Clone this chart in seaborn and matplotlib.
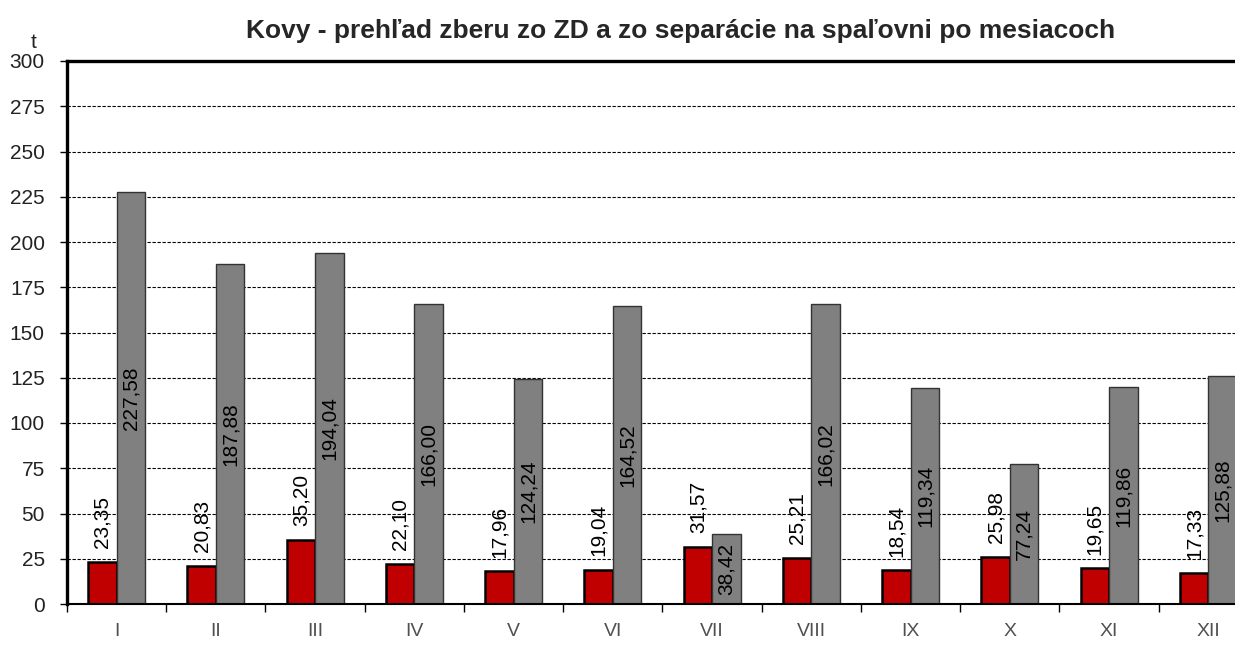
import matplotlib
matplotlib.use("Agg")
import matplotlib.pyplot as plt
import numpy as np
import pandas as pd
import seaborn as sns

# monthly data (t)
months = ['I', 'II', 'III', 'IV', 'V', 'VI', 'VII', 'VIII', 'IX', 'X', 'XI', 'XII']
zber_zd = [23.35, 20.83, 35.20, 22.10, 17.96, 19.04, 31.57, 25.21, 18.54, 25.98, 19.65, 17.33]
separacia = [227.58, 187.88, 194.04, 166.00, 124.24, 164.52, 38.42, 166.02, 119.34, 77.24, 119.86, 125.88]
series_names = ['zber zo ZD', 'separácia na spaľovni']
y_ticks = list(range(0, 301, 25))

title = 'Kovy - prehľad zberu zo ZD a zo separácie na spaľovni po mesiacoch'

df = pd.DataFrame({
    'mesiac': months * 2,
    'hodnota': zber_zd + separacia,
    'zdroj': [series_names[0]] * len(months) + [series_names[1]] * len(months),
})

sns.set_theme(style='white')
plt.rcParams['font.family'] = ['Liberation Sans', 'DejaVu Sans']

fig = plt.figure(figsize=(12.35, 6.48), dpi=100)
# axes runs past the right edge like in the original (cropped) picture
ax = fig.add_axes([67 / 1235, 44 / 648, 1191 / 1235, 543 / 648])

sns.barplot(data=df, x='mesiac', y='hodnota', hue='zdroj', order=months,
            hue_order=series_names, palette=['#C00000', '#808080'],
            width=0.575, saturation=1, legend=False, ax=ax, zorder=2)

red_bars, gray_bars = ax.containers[0], ax.containers[1]
for p in red_bars:
    p.set_edgecolor('black')
    p.set_linewidth(1.8)
for p in gray_bars:
    p.set_edgecolor('#333333')
    p.set_linewidth(1.0)

def fmt(v):
    return f'{v:.2f}'.replace('.', ',')

ax.bar_label(red_bars, labels=[fmt(v) for v in zber_zd], rotation=90,
             padding=10, fontsize=15, color='black')
ax.bar_label(gray_bars, labels=[fmt(v) for v in separacia], rotation=90,
             label_type='center', fontsize=15, color='black')

ax.set_xlim(-0.5, len(months) - 0.5)
ax.set_ylim(0, 300)
ax.set_yticks(y_ticks)
ax.set_xlabel('')
ax.set_ylabel('')

ax.yaxis.grid(True, linestyle=(0, (3, 1.5)), color='black', linewidth=0.8)
ax.set_axisbelow(True)

# category separators as ticks
ax.set_xticks(np.arange(len(months)))
ax.set_xticklabels(months)
ax.set_xticks(np.arange(len(months) + 1) - 0.5, minor=True)
ax.tick_params(axis='x', which='major', length=0, pad=14, labelsize=14,
               labelcolor='#505050')
ax.tick_params(axis='x', which='minor', length=6, width=1, color='black',
               direction='out', bottom=True)
ax.tick_params(axis='y', length=5, width=1, color='black', direction='out',
               left=True, pad=11, labelsize=15, labelcolor='#222222')

for side in ['left', 'top']:
    ax.spines[side].set_linewidth(2.4)
    ax.spines[side].set_color('black')
ax.spines['bottom'].set_linewidth(1.5)
ax.spines['bottom'].set_color('black')
ax.spines['right'].set_visible(False)

fig.text(34 / 1235, 1 - 43 / 648, 't', fontsize=15, ha='center', va='center',
         color='#222222')
fig.text(681 / 1235, 1 - 31 / 648, title, fontsize=19, fontweight='bold',
         ha='center', va='center')

fig.savefig('out.png', dpi=100)
